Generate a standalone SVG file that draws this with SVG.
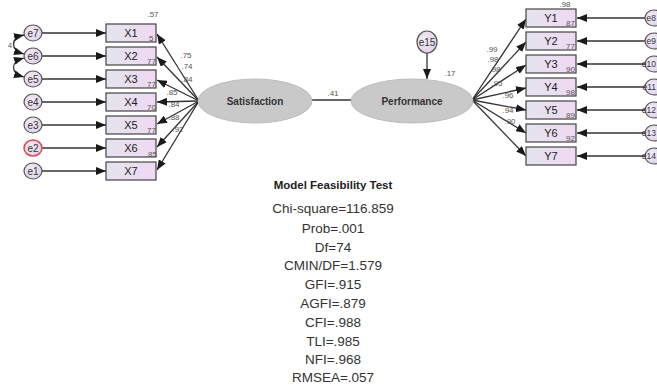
<svg xmlns="http://www.w3.org/2000/svg" width="657" height="386" viewBox="0 0 657 386">
<defs>
<linearGradient id="boxg" x1="0" y1="0" x2="1" y2="0">
<stop offset="0" stop-color="#e4e4ee"/>
<stop offset="1" stop-color="#efd9f2"/>
</linearGradient>
<radialGradient id="errg" cx="0.4" cy="0.4" r="0.7">
<stop offset="0" stop-color="#f3ecf6"/>
<stop offset="1" stop-color="#ddd0e6"/>
</radialGradient>
<marker id="ah" markerUnits="userSpaceOnUse" markerWidth="10" markerHeight="8" refX="10" refY="4" orient="auto">
<path d="M0,0 L10,4 L0,8 Z" fill="#1a1a1a"/>
</marker>
<marker id="ahs" markerUnits="userSpaceOnUse" markerWidth="10" markerHeight="8" refX="10" refY="4" orient="auto-start-reverse">
<path d="M0,0 L10,4 L0,8 Z" fill="#1a1a1a"/>
</marker>
</defs>
<style>
.box{fill:url(#boxg);stroke:#444;stroke-width:1.2}
.err{fill:url(#errg);stroke:#555;stroke-width:1.2}
.lat{fill:#c9c9c9;stroke:#bdbdbd;stroke-width:1}
.lbl{font-family:"Liberation Sans",Arial,sans-serif;font-size:11px;fill:#222;text-anchor:middle}
.elbl{font-family:"Liberation Sans",Arial,sans-serif;font-size:10px;fill:#333;text-anchor:middle}
.rlbl{font-family:"Liberation Sans",Arial,sans-serif;font-size:8.5px;fill:#333;text-anchor:end}
.sm{font-family:"Liberation Sans",Arial,sans-serif;font-size:8px;fill:#555}
.coef{font-family:"Liberation Sans",Arial,sans-serif;font-size:8px;fill:#555;text-anchor:middle}
.latl{font-family:"Liberation Sans",Arial,sans-serif;font-size:10px;font-weight:bold;fill:#333;text-anchor:middle}
.title{font-family:"Liberation Sans",Arial,sans-serif;font-size:11.5px;font-weight:bold;fill:#222;text-anchor:middle}
.stat{font-family:"Liberation Sans",Arial,sans-serif;font-size:13.5px;fill:#333;text-anchor:middle}
.c{stroke:#333;stroke-width:1.3;fill:none}
</style>
<rect width="657" height="386" fill="#ffffff"/>

<g id="connectors">
<line class="c" x1="42" y1="33" x2="106" y2="33" marker-end="url(#ah)"/>
<line class="c" x1="42" y1="56" x2="106" y2="56" marker-end="url(#ah)"/>
<line class="c" x1="42" y1="79" x2="106" y2="79" marker-end="url(#ah)"/>
<line class="c" x1="42" y1="102" x2="106" y2="102" marker-end="url(#ah)"/>
<line class="c" x1="42" y1="125" x2="106" y2="125" marker-end="url(#ah)"/>
<line class="c" x1="42" y1="148" x2="106" y2="148" marker-end="url(#ah)"/>
<line class="c" x1="42" y1="171" x2="106" y2="171" marker-end="url(#ah)"/>
<path class="c" d="M24,35 C10,38 10,50 24,54" marker-start="url(#ahs)" marker-end="url(#ah)"/>
<path class="c" d="M24,58 C10,62 10,73 24,77" marker-start="url(#ahs)" marker-end="url(#ah)"/>
<line class="c" x1="199" y1="101" x2="157" y2="34" marker-end="url(#ah)"/>
<line class="c" x1="199" y1="101" x2="157" y2="57" marker-end="url(#ah)"/>
<line class="c" x1="199" y1="101" x2="157" y2="80" marker-end="url(#ah)"/>
<line class="c" x1="199" y1="101" x2="157" y2="102" marker-end="url(#ah)"/>
<line class="c" x1="199" y1="101" x2="157" y2="124" marker-end="url(#ah)"/>
<line class="c" x1="199" y1="101" x2="157" y2="147" marker-end="url(#ah)"/>
<line class="c" x1="199" y1="101" x2="157" y2="170" marker-end="url(#ah)"/>
<line class="c" x1="312" y1="100" x2="352" y2="100"/>
<line class="c" x1="427" y1="53" x2="427" y2="79" marker-end="url(#ah)"/>
<line class="c" x1="472" y1="100" x2="526" y2="19" marker-end="url(#ah)"/>
<line class="c" x1="472" y1="100" x2="526" y2="42" marker-end="url(#ah)"/>
<line class="c" x1="472" y1="100" x2="526" y2="65" marker-end="url(#ah)"/>
<line class="c" x1="472" y1="100" x2="526" y2="88" marker-end="url(#ah)"/>
<line class="c" x1="472" y1="100" x2="526" y2="110" marker-end="url(#ah)"/>
<line class="c" x1="472" y1="100" x2="526" y2="133" marker-end="url(#ah)"/>
<line class="c" x1="472" y1="100" x2="526" y2="156" marker-end="url(#ah)"/>
<line class="c" x1="645" y1="18" x2="577" y2="18" marker-end="url(#ah)"/>
<line class="c" x1="645" y1="41" x2="577" y2="41" marker-end="url(#ah)"/>
<line class="c" x1="645" y1="64" x2="577" y2="64" marker-end="url(#ah)"/>
<line class="c" x1="645" y1="87" x2="577" y2="87" marker-end="url(#ah)"/>
<line class="c" x1="645" y1="110" x2="577" y2="110" marker-end="url(#ah)"/>
<line class="c" x1="645" y1="133" x2="577" y2="133" marker-end="url(#ah)"/>
<line class="c" x1="645" y1="156" x2="577" y2="156" marker-end="url(#ah)"/>
</g>

<g id="coefficients">
<text class="coef" x="10" y="48">4</text>
<text class="coef" x="186" y="58">.75</text>
<text class="coef" x="187" y="69">.74</text>
<text class="coef" x="187" y="82">.84</text>
<text class="coef" x="172" y="95">.85</text>
<text class="coef" x="174" y="107">.84</text>
<text class="coef" x="174" y="120">.88</text>
<text class="coef" x="178" y="132">.92</text>
<text class="coef" x="333" y="96">.41</text>
<text class="coef" x="450" y="76">.17</text>
<text class="coef" x="492" y="52">.99</text>
<text class="coef" x="493" y="62">.98</text>
<text class="coef" x="495" y="72">.98</text>
<text class="coef" x="497" y="86">.95</text>
<text class="coef" x="508" y="98">.96</text>
<text class="coef" x="508" y="113">.94</text>
<text class="coef" x="510" y="124">.90</text>
<text class="coef" x="153" y="17">.57</text>
<text class="coef" x="565" y="7">.98</text>
</g>

<g id="e7"><ellipse class="err" cx="33" cy="33" rx="9" ry="8"/><text class="elbl" x="33" y="37">e7</text></g>
<g id="e6"><ellipse class="err" cx="33" cy="56" rx="9" ry="8"/><text class="elbl" x="33" y="60">e6</text></g>
<g id="e5"><ellipse class="err" cx="33" cy="79" rx="9" ry="8"/><text class="elbl" x="33" y="83">e5</text></g>
<g id="e4"><ellipse class="err" cx="33" cy="102" rx="9" ry="8"/><text class="elbl" x="33" y="106">e4</text></g>
<g id="e3"><ellipse class="err" cx="33" cy="125" rx="9" ry="8"/><text class="elbl" x="33" y="129">e3</text></g>
<g id="e2"><ellipse class="err" cx="33" cy="148" rx="9" ry="8" style="stroke:#e04848;stroke-width:1.5"/><text class="elbl" x="33" y="152">e2</text></g>
<g id="e1"><ellipse class="err" cx="33" cy="171" rx="9" ry="8"/><text class="elbl" x="33" y="175">e1</text></g>

<g id="X1"><rect class="box" x="106" y="24" width="50" height="18"/><text class="lbl" x="131" y="37">X1</text><text class="sm" x="149" y="41">5</text></g>
<g id="X2"><rect class="box" x="106" y="47" width="50" height="18"/><text class="lbl" x="131" y="60">X2</text><text class="sm" x="147" y="64">77</text></g>
<g id="X3"><rect class="box" x="106" y="70" width="50" height="18"/><text class="lbl" x="131" y="83">X3</text><text class="sm" x="147" y="87">77</text></g>
<g id="X4"><rect class="box" x="106" y="93" width="50" height="18"/><text class="lbl" x="131" y="106">X4</text><text class="sm" x="147" y="110">70</text></g>
<g id="X5"><rect class="box" x="106" y="116" width="50" height="18"/><text class="lbl" x="131" y="129">X5</text><text class="sm" x="147" y="133">77</text></g>
<g id="X6"><rect class="box" x="106" y="139" width="50" height="18"/><text class="lbl" x="131" y="152">X6</text><text class="sm" x="148" y="157">85</text></g>
<g id="X7"><rect class="box" x="106" y="162" width="50" height="18"/><text class="lbl" x="131" y="175">X7</text></g>

<g id="Satisfaction"><ellipse class="lat" cx="255" cy="101" rx="57" ry="22"/><text class="latl" x="255" y="105">Satisfaction</text></g>
<g id="Performance"><ellipse class="lat" cx="412" cy="101" rx="61" ry="22"/><text class="latl" x="412" y="105">Performance</text></g>
<g id="e15"><ellipse class="err" cx="427" cy="42" rx="10" ry="11"/><text class="elbl" x="427" y="46">e15</text></g>

<g id="Y1"><rect class="box" x="526" y="9" width="50" height="18"/><text class="lbl" x="551" y="22">Y1</text><text class="sm" x="566" y="26">87</text></g>
<g id="Y2"><rect class="box" x="526" y="32" width="50" height="18"/><text class="lbl" x="551" y="45">Y2</text><text class="sm" x="566" y="49">77</text></g>
<g id="Y3"><rect class="box" x="526" y="55" width="50" height="18"/><text class="lbl" x="551" y="68">Y3</text><text class="sm" x="566" y="72">90</text></g>
<g id="Y4"><rect class="box" x="526" y="78" width="50" height="18"/><text class="lbl" x="551" y="91">Y4</text><text class="sm" x="566" y="95">98</text></g>
<g id="Y5"><rect class="box" x="526" y="101" width="50" height="18"/><text class="lbl" x="551" y="114">Y5</text><text class="sm" x="566" y="118">89</text></g>
<g id="Y6"><rect class="box" x="526" y="124" width="50" height="18"/><text class="lbl" x="551" y="137">Y6</text><text class="sm" x="566" y="141">92</text></g>
<g id="Y7"><rect class="box" x="526" y="147" width="50" height="18"/><text class="lbl" x="551" y="160">Y7</text></g>

<g id="e8"><ellipse class="err" cx="654" cy="18" rx="9" ry="8"/><text class="rlbl" x="656" y="21">e8</text></g>
<g id="e9"><ellipse class="err" cx="654" cy="41" rx="9" ry="8"/><text class="rlbl" x="656" y="44">e9</text></g>
<g id="e10"><ellipse class="err" cx="654" cy="64" rx="9" ry="8"/><text class="rlbl" x="656" y="67">e10</text></g>
<g id="e11"><ellipse class="err" cx="654" cy="87" rx="9" ry="8"/><text class="rlbl" x="656" y="90">e11</text></g>
<g id="e12"><ellipse class="err" cx="654" cy="110" rx="9" ry="8"/><text class="rlbl" x="656" y="113">e12</text></g>
<g id="e13"><ellipse class="err" cx="654" cy="133" rx="9" ry="8"/><text class="rlbl" x="656" y="136">e13</text></g>
<g id="e14"><ellipse class="err" cx="654" cy="156" rx="9" ry="8"/><text class="rlbl" x="656" y="159">e14</text></g>

<g id="stats">
<text class="title" x="333" y="189">Model Feasibility Test</text>
<text class="stat" x="333" y="213">Chi-square=116.859</text>
<text class="stat" x="333" y="233">Prob=.001</text>
<text class="stat" x="333" y="252">Df=74</text>
<text class="stat" x="333" y="270">CMIN/DF=1.579</text>
<text class="stat" x="333" y="289">GFI=.915</text>
<text class="stat" x="333" y="308">AGFI=.879</text>
<text class="stat" x="333" y="327">CFI=.988</text>
<text class="stat" x="333" y="346">TLI=.985</text>
<text class="stat" x="333" y="364">NFI=.968</text>
<text class="stat" x="333" y="382">RMSEA=.057</text>
</g>
</svg>
